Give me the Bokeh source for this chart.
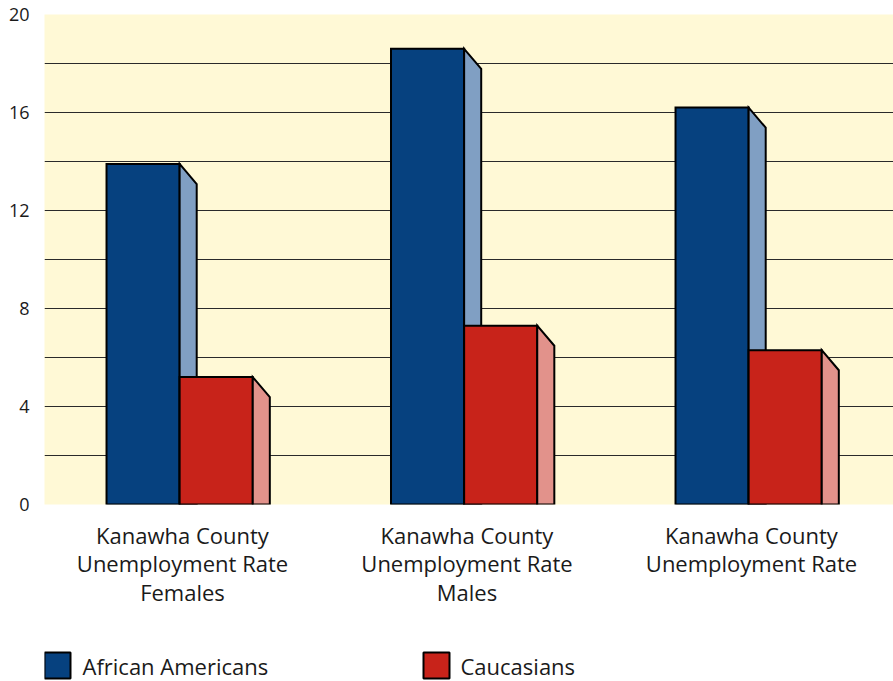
from bokeh.plotting import figure
from bokeh.layouts import column
from bokeh.models import Range1d, FixedTicker, ColumnDataSource
from bokeh.core.properties import value
from bokeh.embed import file_html
from bokeh.resources import INLINE

# ---- data ----
categories = [
    "Kanawha County\nUnemployment Rate\nFemales",
    "Kanawha County\nUnemployment Rate\nMales",
    "Kanawha County\nUnemployment Rate",
]
african_americans = [13.9, 18.6, 16.2]
caucasians = [5.2, 7.3, 6.3]
series_names = ["African Americans", "Caucasians"]
y_tick_values = [0, 4, 8, 12, 16, 20]
grid_values = [0, 2, 4, 6, 8, 10, 12, 14, 16, 18, 20]

# ---- styling / geometry constants ----
FONT = "Open Sans"
BLUE, BLUE_SIDE = "#06417F", "#809FC3"
RED, RED_SIDE = "#C8231A", "#E2928B"
BG = "#FFF9D6"
TEXT = "#1a1a1a"
BAR_W = 0.257      # width of a front face (x units)
OFFSET = 0.218     # left edge of first bar within group
DEPTH_X = 0.06     # side depth in x units
DEPTH_Y = 0.82     # side drop in y units
LABEL_POS = 0.485
W = 893
LEFT = 44
FRAME_W = W - LEFT

n = len(categories)
idx = list(range(n))

# ---------------- main chart ----------------
p = figure(
    width=W, height=518,
    x_range=Range1d(0, FRAME_W / 284.5), y_range=Range1d(0, 20),
    output_backend="svg", toolbar_location=None,
    min_border_left=LEFT, min_border_top=14, min_border_right=0, min_border_bottom=14,
)
p.background_fill_color = BG
p.border_fill_color = "white"
p.outline_line_color = None


def add_series(values, start, front, side):
    left = [i + start for i in idx]
    right = [l + BAR_W for l in left]
    src = ColumnDataSource(dict(left=left, right=right, top=values, bottom=[0] * n))
    r = p.quad(left="left", right="right", top="top", bottom="bottom", source=src,
               fill_color=front, line_color="black", line_width=2, line_join="miter")
    xs = [[rr, rr + DEPTH_X, rr + DEPTH_X, rr] for rr in right]
    ys = [[t, t - DEPTH_Y, 0, 0] for t in values]
    p.patches(xs=xs, ys=ys, fill_color=side, line_color="black", line_width=2, line_join="miter")
    return r


add_series(african_americans, OFFSET, BLUE, BLUE_SIDE)
add_series(caucasians, OFFSET + BAR_W, RED, RED_SIDE)

p.xgrid.visible = False
p.ygrid.ticker = FixedTicker(ticks=grid_values)
p.ygrid.grid_line_color = "#2a2a2a"
p.ygrid.grid_line_width = 1
p.ygrid.level = "underlay"

p.xaxis.visible = False
p.yaxis.ticker = FixedTicker(ticks=y_tick_values)
p.yaxis.axis_line_color = None
p.yaxis.major_tick_line_color = None
p.yaxis.minor_tick_line_color = None
p.yaxis.major_label_text_font = FONT
p.yaxis.major_label_text_font_size = "18px"
p.yaxis.major_label_text_color = TEXT
p.yaxis.major_label_standoff = 9

# ---------------- category labels ----------------
LH = 122
pl = figure(
    width=W, height=LH, x_range=p.x_range, y_range=Range1d(0, LH),
    output_backend="svg", toolbar_location=None, x_axis_type=None, y_axis_type=None,
    min_border_left=LEFT, min_border_right=0, min_border_top=0, min_border_bottom=0,
)
pl.outline_line_color = None
pl.xgrid.visible = False
pl.ygrid.visible = False
pl.text(x=[i + LABEL_POS for i in idx], y=[LH - 1] * n, text=categories,
        text_font=value(FONT), text_font_size="22px", text_color=TEXT,
        text_align="center", text_baseline="top", text_line_height=0.95)

# ---------------- legend ----------------
LGH = 41
pg = figure(
    width=W, height=LGH, x_range=Range1d(0, FRAME_W), y_range=Range1d(0, LGH),
    output_backend="svg", toolbar_location=None, x_axis_type=None, y_axis_type=None,
    min_border_left=LEFT, min_border_right=0, min_border_top=0, min_border_bottom=0,
)
pg.outline_line_color = None
pg.xgrid.visible = False
pg.ygrid.visible = False
pg.rect(x=[13, 392], y=[16, 16], width=26, height=26,
        fill_color=[BLUE, RED], line_color="black", line_width=2)
pg.text(x=[38, 416], y=[16, 16], text=series_names,
        text_font=value(FONT), text_font_size="22px", text_color=TEXT,
        text_align="left", text_baseline="middle")

layout = column(p, pl, pg, spacing=0)
open("out.html", "w").write(file_html(layout, INLINE))
